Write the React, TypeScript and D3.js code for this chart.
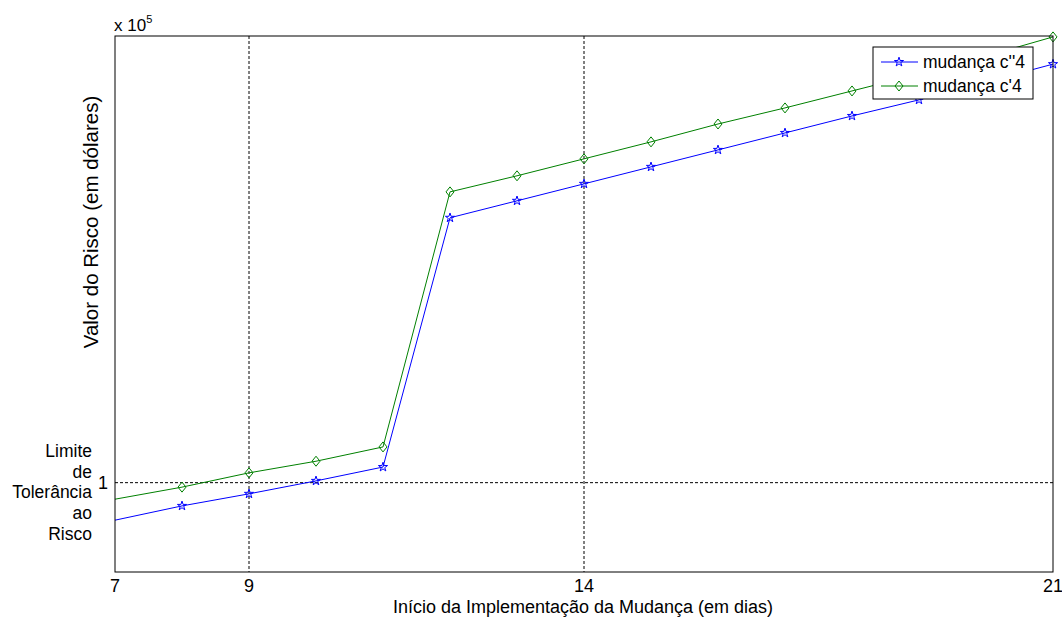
import React, { useEffect, useRef } from "react";
import * as d3 from "d3";

// dias (x=6 fica fora do eixo, só para a linha começar na borda)
const days = [6, 7, 8, 9, 10, 11, 12, 13, 14, 15, 16, 17, 18, 19, 20, 21];
// valores em unidades de 10^5
const mudancaC2 = [0.884, 0.916, 0.948, 0.975, 1.004, 1.035, 1.593, 1.631, 1.669, 1.707, 1.745, 1.783, 1.821, 1.857, 1.897, 1.937];
const mudancaC1 = [0.935, 0.963, 0.99, 1.022, 1.048, 1.08, 1.651, 1.687, 1.725, 1.763, 1.803, 1.839, 1.877, 1.915, 1.955, 1.998];
const seriesNames = ["mudança c''4", "mudança c'4"];
const xTicks = [7, 9, 14, 21];
const yTicks = [1];
const limitLabel = ["Limite", "de", "Tolerância", "ao", "Risco"];

const diamond = "M0,-5L4,0L0,5L-4,0Z";

function App() {
  const svgRef = useRef<SVGSVGElement>(null);

  useEffect(() => {
    const W = 1062;
    const H = 619;
    const margin = { top: 36, right: 9, bottom: 47, left: 115 };
    const width = W - margin.left - margin.right;
    const height = H - margin.top - margin.bottom;
    const font = "Liberation Sans, Arial, sans-serif";

    const svg = d3.select(svgRef.current);
    svg.selectAll("*").remove();
    svg.attr("width", W).attr("height", H);

    svg.append("defs").append("clipPath").attr("id", "plotclip")
      .append("rect").attr("x", 0).attr("y", 0).attr("width", width).attr("height", height);

    const g = svg.append("g").attr("transform", `translate(${margin.left},${margin.top})`);

    const x = d3.scaleLinear().domain([7, 21]).range([0, width]);
    const y = d3.scaleLinear().domain([0.8, 2.0]).range([height, 0]);

    // grade tracejada
    g.selectAll(".gx").data(xTicks.filter((t) => t !== 7 && t !== 21)).enter().append("line")
      .attr("x1", (d) => x(d)).attr("x2", (d) => x(d))
      .attr("y1", 0).attr("y2", height)
      .attr("stroke", "#000").attr("stroke-width", 1).attr("stroke-dasharray", "3,2");
    g.selectAll(".gy").data(yTicks).enter().append("line")
      .attr("x1", 0).attr("x2", width)
      .attr("y1", (d) => y(d)).attr("y2", (d) => y(d))
      .attr("stroke", "#000").attr("stroke-width", 1).attr("stroke-dasharray", "3,2");

    const series = [
      { name: seriesNames[0], values: mudancaC2, color: "#0000ff", shape: d3.symbol(d3.symbolStar, 26)() as string },
      { name: seriesNames[1], values: mudancaC1, color: "#008000", shape: diamond },
    ];

    const line = d3.line<number>().x((d, i) => x(days[i])).y((d) => y(d));

    const plot = g.append("g").attr("clip-path", "url(#plotclip)");
    series.forEach((s) => {
      plot.append("path").datum(s.values)
        .attr("d", line).attr("fill", "none").attr("stroke", s.color).attr("stroke-width", 1);
    });
    series.forEach((s) => {
      g.selectAll(null).data(s.values.map((v, i) => [days[i], v]).filter((d) => d[0] > 7)).enter()
        .append("path")
        .attr("d", s.shape)
        .attr("transform", (d) => `translate(${x(d[0])},${y(d[1])})`)
        .attr("fill", "none").attr("stroke", s.color).attr("stroke-width", 1);
    });

    // caixa dos eixos
    g.append("rect").attr("x", 0).attr("y", 0).attr("width", width).attr("height", height)
      .attr("fill", "none").attr("stroke", "#000").attr("stroke-width", 1);

    // rótulos do eixo x
    g.selectAll(".xt").data(xTicks).enter().append("text")
      .attr("x", (d) => x(d)).attr("y", height + 20)
      .attr("text-anchor", "middle").attr("font-family", font).attr("font-size", 18)
      .text((d) => d);

    // rótulo do eixo y
    g.selectAll(".yt").data(yTicks).enter().append("text")
      .attr("x", -7).attr("y", (d) => y(d) + 6)
      .attr("text-anchor", "end").attr("font-family", font).attr("font-size", 18)
      .text((d) => d);

    const lim = svg.append("text").attr("font-family", font).attr("font-size", 17.5)
      .attr("text-anchor", "end");
    lim.selectAll("tspan").data(limitLabel).enter().append("tspan")
      .attr("x", 92).attr("y", (d, i) => 457 + i * 20.7).text((d) => d);

    // x 10^5
    const exp = svg.append("text").attr("x", 114).attr("y", 31)
      .attr("font-family", font).attr("font-size", 17);
    exp.append("tspan").text("x 10");
    exp.append("tspan").attr("dy", -8).attr("font-size", 11).text("5");

    svg.append("text")
      .attr("x", 583).attr("y", 613)
      .attr("text-anchor", "middle").attr("font-family", font).attr("font-size", 18)
      .text("Início da Implementação da Mudança (em dias)");

    svg.append("text")
      .attr("transform", "translate(98,222) rotate(-90)")
      .attr("text-anchor", "middle").attr("font-family", font).attr("font-size", 20.5)
      .text("Valor do Risco (em dólares)");

    // legenda
    const leg = svg.append("g").attr("transform", "translate(873,47)");
    leg.append("rect").attr("width", 160).attr("height", 52)
      .attr("fill", "#fff").attr("stroke", "#000").attr("stroke-width", 1);
    series.forEach((s, i) => {
      const ly = 15 + i * 24;
      leg.append("line").attr("x1", 8).attr("x2", 45).attr("y1", ly).attr("y2", ly)
        .attr("stroke", s.color).attr("stroke-width", 1);
      leg.append("path").attr("d", s.shape).attr("transform", `translate(26,${ly})`)
        .attr("fill", "none").attr("stroke", s.color).attr("stroke-width", 1);
      leg.append("text").attr("x", 50).attr("y", ly + 6)
        .attr("font-family", font).attr("font-size", 17.5).text(s.name);
    });
  }, []);

  return <svg ref={svgRef} style={{ position: "absolute", left: 0, top: 0 }}></svg>;
}

export default App;
